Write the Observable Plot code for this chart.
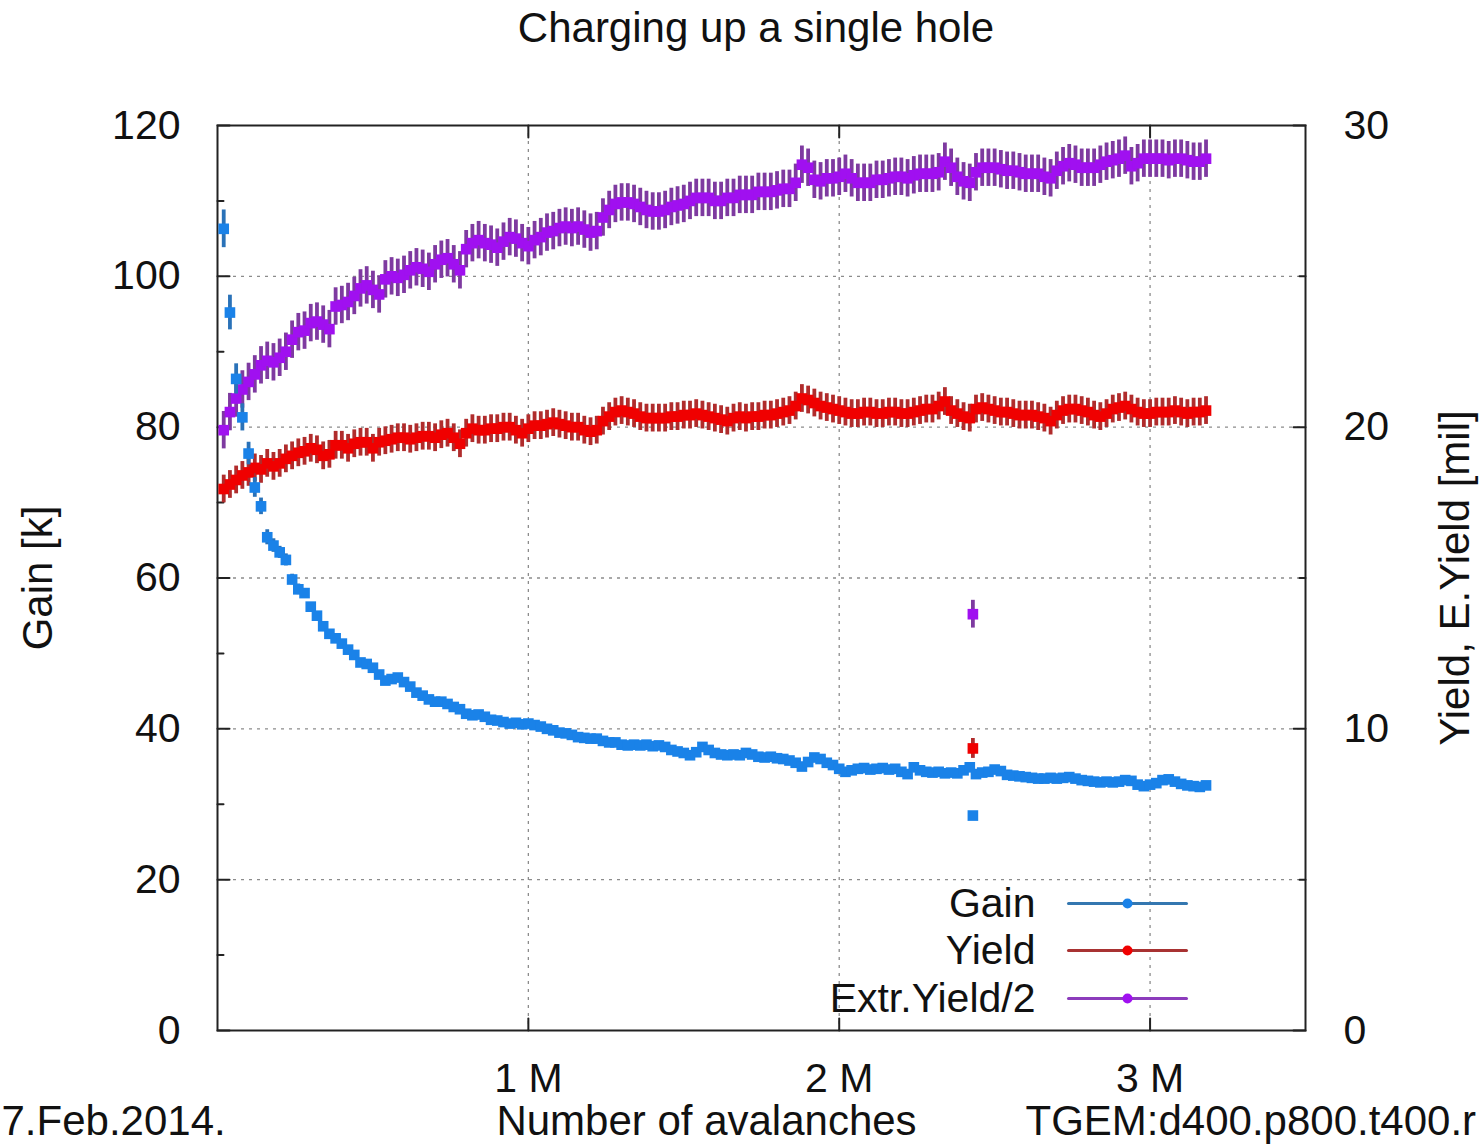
<!DOCTYPE html>
<html><head><meta charset="utf-8">
<script src="https://cdn.jsdelivr.net/npm/d3@7"></script>
<script src="https://cdn.jsdelivr.net/npm/@observablehq/plot@0.6"></script>
<style>
html,body{margin:0;padding:0;background:#fff;overflow:hidden;}
#title{height:56px;line-height:56px;font-size:42px;font-family:"Liberation Sans",Arial,sans-serif;text-align:center;padding-left:30px;width:1482px;box-sizing:border-box;color:#111;}
</style></head><body>
<div id="title">Charging up a single hole</div>
<div id="chart"></div>
<script>
// Number of avalanches, in thousands
const avalanchesK = [
20,40,60,80,100,120,140,160,180,200,220,240,260,280,300,320,340,360,380,400,
420,440,460,480,500,520,540,560,580,600,620,640,660,680,700,720,740,760,780,800,
820,840,860,880,900,920,940,960,980,1000,1020,1040,1060,1080,1100,1120,1140,1160,1180,1200,
1220,1240,1260,1280,1300,1320,1340,1360,1380,1400,1420,1440,1460,1480,1500,1520,1540,1560,1580,1600,
1620,1640,1660,1680,1700,1720,1740,1760,1780,1800,1820,1840,1860,1880,1900,1920,1940,1960,1980,2000,
2020,2040,2060,2080,2100,2120,2140,2160,2180,2200,2220,2240,2260,2280,2300,2320,2340,2360,2380,2400,
2420,2440,2460,2480,2500,2520,2540,2560,2580,2600,2620,2640,2660,2680,2700,2720,2740,2760,2780,2800,
2820,2840,2860,2880,2900,2920,2940,2960,2980,3000,3020,3040,3060,3080,3100,3120,3140,3160,3180];

// Gain [k] (left axis)
const gain = [
106.3,95.2,86.4,81.3,76.5,72.0,69.5,65.4,64.3,63.4,62.4,59.8,58.5,58.0,56.2,55.0,53.6,52.6,52.0,51.3,
50.5,49.8,48.8,48.6,48.1,47.2,46.4,46.6,46.8,46.2,45.6,44.8,44.4,43.9,43.6,43.6,43.3,42.9,42.6,42.0,
41.8,41.9,41.6,41.2,41.1,40.9,40.7,40.8,40.6,40.7,40.5,40.3,40.0,39.8,39.5,39.4,39.2,38.9,38.8,38.7,
38.7,38.4,38.2,38.2,37.9,37.8,37.9,37.8,37.9,37.7,37.8,37.6,37.2,37.0,36.8,36.5,36.9,37.6,37.2,36.8,
36.6,36.5,36.6,36.5,36.8,36.6,36.3,36.2,36.3,36.1,36.0,35.8,35.5,35.0,35.6,36.2,36.0,35.5,35.2,34.7,
34.3,34.5,34.7,34.8,34.6,34.7,34.8,34.6,34.7,34.3,34.0,34.9,34.5,34.3,34.2,34.3,34.1,34.2,34.1,34.5,
34.9,34.0,34.2,34.3,34.6,34.4,33.9,33.8,33.7,33.6,33.5,33.4,33.4,33.5,33.4,33.5,33.6,33.4,33.2,33.1,
33.0,32.9,33.0,32.9,33.0,33.2,33.1,32.6,32.4,32.6,32.8,33.2,33.3,33.0,32.7,32.5,32.4,32.3,32.5];
const gainErrEarly = [2.5,2.3,2.0,1.8,1.5,1.3,1.1,1.0,0.9,0.8,0.8,0.7,0.7,0.6];
const gainErrLate = 0.45;

// Yield [mil] (right axis)
const yieldMil = [
17.95,18.1,18.25,18.4,18.5,18.65,18.6,18.8,18.7,18.8,18.95,19.05,19.15,19.2,19.3,19.25,19.05,19.1,19.4,19.4,
19.3,19.45,19.5,19.5,19.3,19.5,19.55,19.6,19.65,19.65,19.6,19.65,19.7,19.7,19.65,19.75,19.8,19.65,19.45,19.8,
19.95,19.9,19.9,19.95,19.95,20.0,20.0,19.9,19.8,19.95,20.05,20.05,20.1,20.15,20.1,20.05,20.0,20.0,19.9,19.85,
19.9,20.2,20.35,20.5,20.55,20.5,20.45,20.35,20.3,20.3,20.3,20.3,20.35,20.35,20.4,20.4,20.45,20.4,20.35,20.3,
20.25,20.2,20.3,20.35,20.3,20.35,20.35,20.4,20.4,20.45,20.5,20.55,20.7,20.95,20.9,20.8,20.7,20.65,20.6,20.55,
20.5,20.45,20.45,20.5,20.5,20.45,20.45,20.5,20.5,20.45,20.45,20.5,20.55,20.6,20.6,20.7,20.85,20.55,20.45,20.35,
20.3,20.6,20.65,20.6,20.55,20.5,20.5,20.45,20.4,20.4,20.4,20.35,20.3,20.2,20.4,20.55,20.6,20.6,20.55,20.5,
20.4,20.35,20.45,20.6,20.65,20.7,20.6,20.5,20.45,20.45,20.5,20.5,20.5,20.55,20.5,20.45,20.5,20.5,20.55];
const yieldErr = 0.46;

// Extr.Yield/2 [mil] (right axis)
const extrHalf = [
19.9,20.5,20.95,21.25,21.5,21.75,22.05,22.2,22.15,22.3,22.5,22.9,23.15,23.2,23.45,23.5,23.4,23.25,24.0,24.05,
24.15,24.35,24.6,24.7,24.55,24.4,24.9,25.0,24.95,25.05,25.2,25.3,25.25,25.15,25.4,25.55,25.6,25.4,25.2,25.9,
26.1,26.2,26.1,26.05,25.95,26.15,26.3,26.25,26.1,26.0,26.2,26.3,26.45,26.5,26.6,26.65,26.6,26.65,26.55,26.45,
26.5,26.95,27.2,27.4,27.45,27.45,27.4,27.3,27.2,27.15,27.15,27.2,27.3,27.35,27.4,27.5,27.6,27.6,27.6,27.5,
27.5,27.6,27.6,27.7,27.7,27.7,27.8,27.8,27.8,27.85,27.9,27.9,28.1,28.7,28.6,28.2,28.15,28.25,28.25,28.3,
28.4,28.25,28.1,28.1,28.1,28.2,28.2,28.25,28.3,28.3,28.25,28.35,28.4,28.4,28.4,28.45,28.8,28.6,28.3,28.15,
28.1,28.45,28.6,28.6,28.6,28.55,28.5,28.5,28.45,28.4,28.4,28.4,28.3,28.25,28.5,28.65,28.75,28.7,28.6,28.6,
28.6,28.7,28.8,28.85,28.9,29.0,28.65,28.75,28.9,28.9,28.9,28.9,28.85,28.9,28.9,28.85,28.8,28.8,28.9];
const extrErr = 0.62;

// Single deviant measurement
const outlierK = [2430];
const outlierGain = [28.5];
const outlierYield = [9.35];
const outlierExtr = [13.8];
const outlierErr = {gain: 0.5, yield: 0.33, extr: 0.46};

// Axis ticks
const xTicks = [1000, 2000, 3000];
const yTicks = [0, 20, 40, 60, 80, 100, 120];
const yMinor = [10, 30, 50, 70, 90, 110];
const y2Ticks = [0, 10, 20, 30];
const y2Minor = [5, 15, 25];
const seriesNames = ["Gain", "Yield", "Extr.Yield/2"];

const R = 4; // right-axis (mil) to left-axis (k) ratio: 30 mil ↔ 120 k

const rows = avalanchesK.map((k, i) => ({
  k, gain: gain[i], gErr: i < gainErrEarly.length ? gainErrEarly[i] : gainErrLate,
  yld: yieldMil[i], extr: extrHalf[i]
}));
const outliers = outlierK.map((k, i) => ({k, gain: outlierGain[i], yld: outlierYield[i], extr: outlierExtr[i]}));

const C = {
  gain: {dot: "#1a82e8", bar: "#2a72b8", line: "#3477b0"},
  yld: {dot: "#f00000", bar: "#b02c2c", line: "#a83232"},
  extr: {dot: "#a010f0", bar: "#7e3aa0", line: "#8c3cbc"}
};

const seg = {draw(ctx, l) { ctx.moveTo(0, 0); ctx.lineTo(0, -l); }};
const tickStyle = {stroke: "#222", strokeWidth: 2, shape: seg, anchor: "start"};
const FONT = '"Liberation Sans", Arial, sans-serif';
const DOT_R = 6;
const SYM = "square";
const BAR_W = 3.8;

const legendDy = [-127, -80, -32];
const legendColors = [C.gain, C.yld, C.extr];

const marks = [
  // grid
  Plot.ruleY([20, 40, 60, 80, 100], {stroke: "#8c8c8c", strokeWidth: 1.3, strokeDasharray: "3,5"}),
  Plot.ruleX(xTicks, {stroke: "#8c8c8c", strokeWidth: 1.3, strokeDasharray: "3,5"}),
  Plot.frame({stroke: "#222", strokeWidth: 2}),
  // inward ticks
  Plot.vector(yTicks, {y: d => d, frameAnchor: "left", rotate: 90, length: 12, ...tickStyle}),
  Plot.vector(yMinor, {y: d => d, frameAnchor: "left", rotate: 90, length: 6, ...tickStyle}),
  Plot.vector(y2Ticks, {y: d => d * R, frameAnchor: "right", rotate: -90, length: 12, ...tickStyle}),
  Plot.vector(y2Minor, {y: d => d * R, frameAnchor: "right", rotate: -90, length: 6, ...tickStyle}),
  Plot.vector(xTicks, {x: d => d, frameAnchor: "bottom", rotate: 0, length: 12, ...tickStyle}),
  Plot.vector(xTicks, {x: d => d, frameAnchor: "top", rotate: 180, length: 12, ...tickStyle}),
  // axes
  Plot.axisY({anchor: "left", ticks: yTicks, tickSize: 0, tickPadding: 37, label: null, fontSize: 41}),
  Plot.axisY({anchor: "right", ticks: y2Ticks.map(d => d * R), tickFormat: d => d / R, tickSize: 0, tickPadding: 38, label: null, fontSize: 41}),
  Plot.axisX({anchor: "bottom", ticks: xTicks, tickFormat: d => (d / 1000) + " M", tickSize: 0, tickPadding: 32, label: null, fontSize: 41}),
  // Extr.Yield/2
  Plot.ruleX(rows, {x: "k", y1: d => (d.extr - extrErr) * R, y2: d => (d.extr + extrErr) * R, stroke: C.extr.bar, strokeWidth: BAR_W}),
  Plot.dot(rows, {x: "k", y: d => d.extr * R, r: DOT_R, symbol: SYM, fill: C.extr.dot}),
  // Yield
  Plot.ruleX(rows, {x: "k", y1: d => (d.yld - yieldErr) * R, y2: d => (d.yld + yieldErr) * R, stroke: C.yld.bar, strokeWidth: BAR_W}),
  Plot.dot(rows, {x: "k", y: d => d.yld * R, r: DOT_R, symbol: SYM, fill: C.yld.dot}),
  // Gain
  Plot.ruleX(rows, {x: "k", y1: d => d.gain - d.gErr, y2: d => d.gain + d.gErr, stroke: C.gain.bar, strokeWidth: BAR_W}),
  Plot.dot(rows, {x: "k", y: "gain", r: DOT_R, symbol: SYM, fill: C.gain.dot}),
  // outliers
  Plot.ruleX(outliers, {x: "k", y1: d => (d.extr - outlierErr.extr) * R, y2: d => (d.extr + outlierErr.extr) * R, stroke: C.extr.bar, strokeWidth: BAR_W}),
  Plot.dot(outliers, {x: "k", y: d => d.extr * R, r: DOT_R, symbol: SYM, fill: C.extr.dot}),
  Plot.ruleX(outliers, {x: "k", y1: d => (d.yld - outlierErr.yield) * R, y2: d => (d.yld + outlierErr.yield) * R, stroke: C.yld.bar, strokeWidth: BAR_W}),
  Plot.dot(outliers, {x: "k", y: d => d.yld * R, r: DOT_R, symbol: SYM, fill: C.yld.dot}),
  Plot.ruleX(outliers, {x: "k", y1: d => d.gain - outlierErr.gain, y2: d => d.gain + outlierErr.gain, stroke: C.gain.bar, strokeWidth: BAR_W}),
  Plot.dot(outliers, {x: "k", y: "gain", r: DOT_R, symbol: SYM, fill: C.gain.dot}),
  // axis labels
  Plot.text(["Gain [k]"], {frameAnchor: "left", dx: -179, rotate: -90, textAnchor: "middle", lineAnchor: "middle", fontSize: 42, fill: "#111"}),
  Plot.text(["Yield, E.Yield [mil]"], {frameAnchor: "right", dx: 150, rotate: -90, textAnchor: "middle", lineAnchor: "middle", fontSize: 42, fill: "#111"}),
  Plot.text(["Number of avalanches"], {frameAnchor: "bottom", dx: -55, dy: 104, lineAnchor: "bottom", textAnchor: "middle", fontSize: 42, fill: "#111"}),
  Plot.text(["7.Feb.2014."], {frameAnchor: "bottom-left", dx: -216, dy: 104, lineAnchor: "bottom", textAnchor: "start", fontSize: 42, fill: "#111"}),
  Plot.text(["TGEM:d400.p800.t400.r"], {frameAnchor: "bottom-left", dx: 808, dy: 104, lineAnchor: "bottom", textAnchor: "start", fontSize: 42, fill: "#111"})
];

// legend
seriesNames.forEach((name, i) => {
  const dy = legendDy[i];
  marks.push(
    Plot.text([name], {frameAnchor: "bottom-right", dx: -270, dy, textAnchor: "end", lineAnchor: "middle", fontSize: 41, fill: "#111"}),
    Plot.vector([name], {frameAnchor: "bottom-right", dx: -237, dy, rotate: 90, length: 118, shape: seg, anchor: "start", stroke: legendColors[i].line, strokeWidth: 3}),
    Plot.dot([name], {frameAnchor: "bottom-right", dx: -178, dy, r: 5, fill: legendColors[i].dot})
  );
});

const chart = Plot.plot({
  width: 1482, height: 1088,
  marginLeft: 217, marginRight: 177, marginTop: 69, marginBottom: 114,
  style: {fontFamily: FONT, fontSize: "41px", color: "#111", background: "#fff", overflow: "visible"},
  x: {domain: [0, 3500]},
  y: {domain: [0, 120]},
  marks
});
document.getElementById("chart").appendChild(chart);
</script></body></html>
